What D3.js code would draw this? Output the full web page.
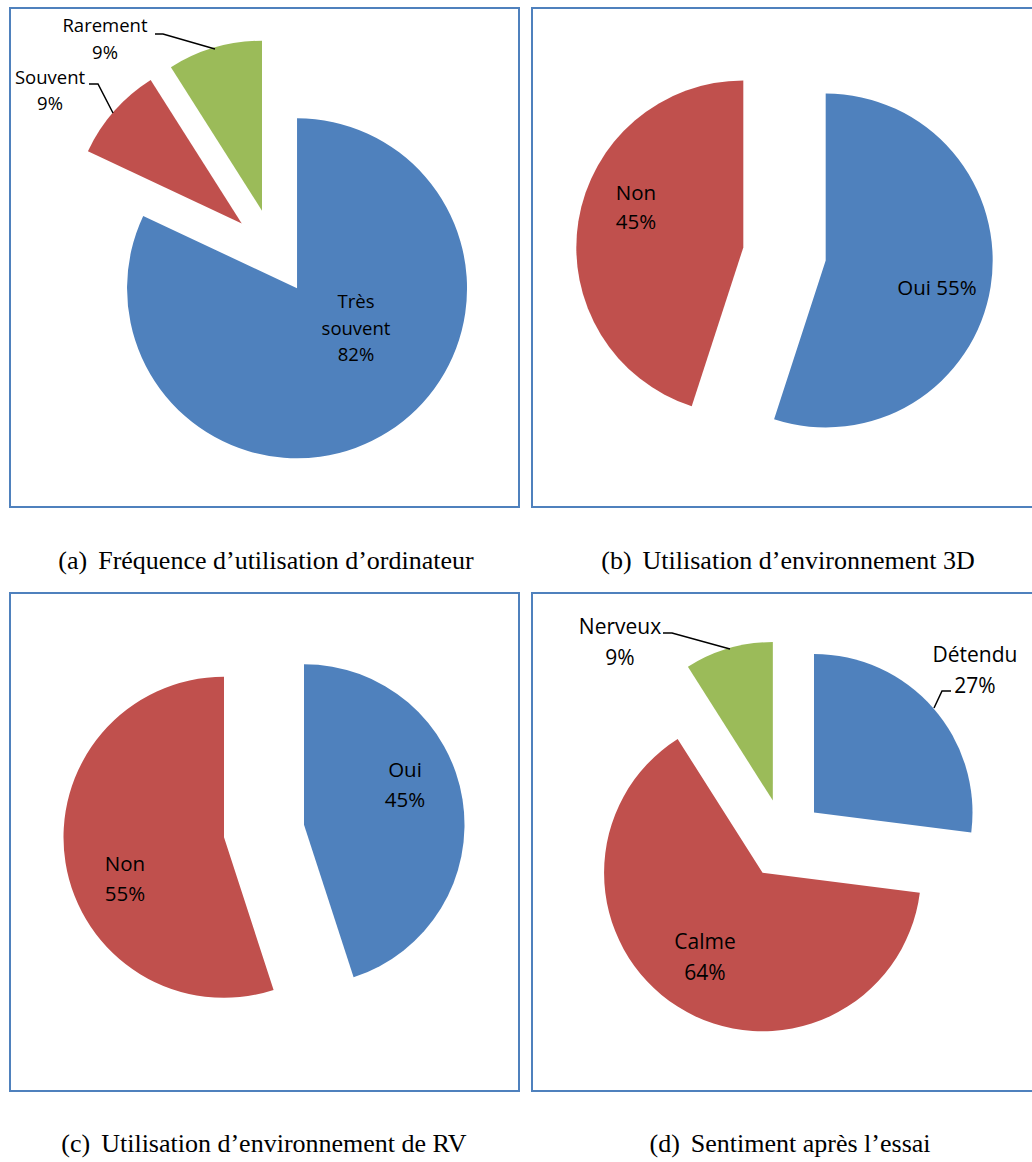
<!DOCTYPE html>
<html>
<head>
<meta charset="utf-8">
<script src="https://cdn.jsdelivr.net/npm/d3@7"></script>
<style>
  html, body { margin: 0; padding: 0; background: #fff; }
  svg { display: block; }
</style>
</head>
<body>
<svg id="chart" width="1032" height="1162"></svg>
<script>
// ---------- DATA ----------
const freqCategories = ["Très souvent", "Souvent", "Rarement"];
const freqValues = [82, 9, 9];

const env3dCategories = ["Oui", "Non"];
const env3dValues = [55, 45];

const rvCategories = ["Oui", "Non"];
const rvValues = [45, 55];

const feelCategories = ["Détendu", "Calme", "Nerveux"];
const feelValues = [27, 64, 9];

const captions = [
  ["(a)", "Fréquence d’utilisation d’ordinateur"],
  ["(b)", "Utilisation d’environnement 3D"],
  ["(c)", "Utilisation d’environnement de RV"],
  ["(d)", "Sentiment après l’essai"]
];

const sliceColors = ["#4F81BD", "#C0504D", "#9BBB59"];

// ---------- LAYOUT ----------
const panels = [
  {
    cats: freqCategories, vals: freqValues,
    box: [10, 8, 509, 499], cx: 274, cy: 252, r: 170, explode: 43, font: 18.5, lh: 26.5,
    labels: [
      { lines: ["Très", "souvent", "82%"], x: 356, y: 308 },
      { lines: ["Souvent", "9%"], x: 50, y: 83.5, leader: [[89, 84], [98, 84], [113, 113]] },
      { lines: ["Rarement", "9%"], x: 105, y: 32, leader: [[155, 34], [163, 34], [215, 49]] }
    ],
    caption: captions[0], capX: 266, capY: 569
  },
  {
    cats: env3dCategories, vals: env3dValues,
    box: [532, 8, 520, 499], cx: 784.5, cy: 254, r: 167, explode: 41.7, font: 20.5, lh: 29,
    labels: [
      { lines: ["Oui 55%"], x: 937, y: 295 },
      { lines: ["Non", "45%"], x: 636, y: 200 }
    ],
    caption: captions[1], capX: 788, capY: 569
  },
  {
    cats: rvCategories, vals: rvValues,
    box: [10, 593, 509, 498], cx: 264, cy: 831, r: 160.5, explode: 40.5, font: 20.5, lh: 30,
    labels: [
      { lines: ["Oui", "45%"], x: 405, y: 777 },
      { lines: ["Non", "55%"], x: 125, y: 871 }
    ],
    caption: captions[2], capX: 264, capY: 1152
  },
  {
    cats: feelCategories, vals: feelValues,
    box: [532, 593, 520, 498], cx: 784, cy: 839, r: 158.5, explode: 40, font: 21, lh: 31,
    labels: [
      { lines: ["Détendu", "27%"], x: 975, y: 662, leader: [[951, 691], [942, 691], [934, 708]] },
      { lines: ["Calme", "64%"], x: 705, y: 949 },
      { lines: ["Nerveux", "9%"], x: 620, y: 634, leader: [[663, 633], [672, 633], [730, 649]] }
    ],
    caption: captions[3], capX: 790, capY: 1152
  }
];

const svg = d3.select("#chart");
const pie = d3.pie().sort(null).value(d => d);

panels.forEach(p => {
  const g = svg.append("g");

  // border box
  g.append("rect")
    .attr("x", p.box[0]).attr("y", p.box[1])
    .attr("width", p.box[2]).attr("height", p.box[3])
    .attr("fill", "none")
    .attr("stroke", "#4F81BD")
    .attr("stroke-width", 2);

  const arc = d3.arc().innerRadius(0).outerRadius(p.r);
  const arcs = pie(p.vals);

  g.append("g")
    .attr("transform", `translate(${p.cx},${p.cy})`)
    .selectAll("path")
    .data(arcs)
    .join("path")
    .attr("d", arc)
    .attr("fill", (d, i) => sliceColors[i])
    .attr("transform", d => {
      const mid = (d.startAngle + d.endAngle) / 2;
      return `translate(${p.explode * Math.sin(mid)},${-p.explode * Math.cos(mid)})`;
    });

  // leader lines
  p.labels.forEach(l => {
    if (l.leader) {
      g.append("path")
        .attr("d", d3.line()(l.leader))
        .attr("fill", "none")
        .attr("stroke", "#000")
        .attr("stroke-width", 1.5);
    }
  });

  // labels
  p.labels.forEach(l => {
    const t = g.append("text")
      .attr("x", l.x).attr("y", l.y)
      .attr("text-anchor", "middle")
      .attr("font-family", "'Open Sans', 'Noto Sans', sans-serif")
      .attr("font-size", p.font)
      .attr("fill", "#000");
    l.lines.forEach((line, i) => {
      t.append("tspan")
        .attr("x", l.x)
        .attr("dy", i === 0 ? 0 : p.lh)
        .text(line);
    });
  });

  // caption
  const c = svg.append("text")
    .attr("x", p.capX).attr("y", p.capY)
    .attr("text-anchor", "middle")
    .attr("font-family", "'Liberation Serif', 'Times New Roman', serif")
    .attr("font-size", 26)
    .attr("fill", "#000");
  c.append("tspan").text(p.caption[0]);
  c.append("tspan").attr("dx", 11).text(p.caption[1]);
});
</script>
</body>
</html>
